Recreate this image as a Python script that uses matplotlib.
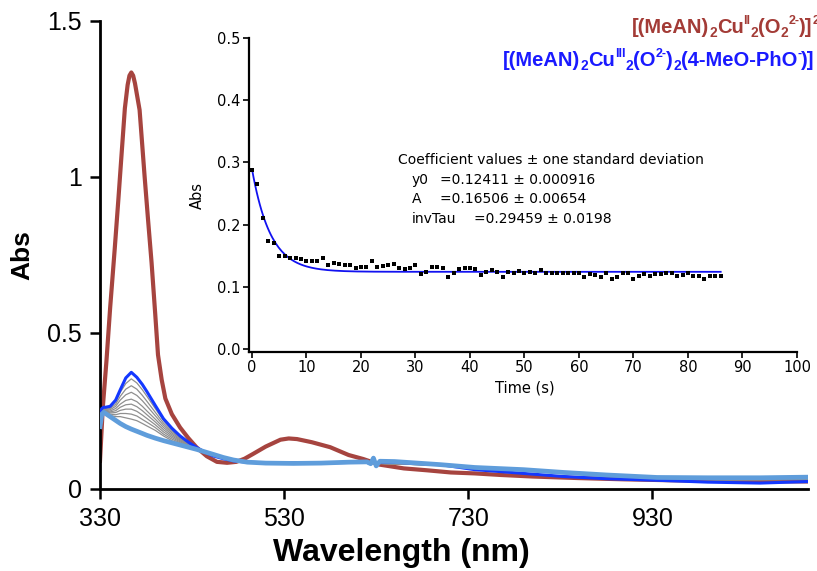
import matplotlib
matplotlib.use("Agg")
import matplotlib.pyplot as plt
import numpy as np

plt.rcParams['font.family'] = ['Liberation Sans', 'DejaVu Sans']

# ---------------- main spectra data ----------------
# initial species (brown)
wl_red = [330, 333, 337, 341, 346, 350, 353, 357, 360, 362, 364, 366, 368, 373, 378.5, 382,
          386, 390, 393, 397, 401, 408, 417, 426, 435, 446, 457, 468, 478, 487, 496, 510,
          526, 535, 544, 560, 580, 600, 616, 634, 660, 685, 711, 737, 765, 800, 850, 900,
          950, 1000, 1050, 1100]
abs_red = [0.09, 0.26, 0.41, 0.58, 0.77, 0.93, 1.055, 1.22, 1.295, 1.325, 1.335, 1.325, 1.30,
           1.215, 1.00, 0.87, 0.726, 0.56, 0.43, 0.35, 0.29, 0.24, 0.197, 0.163, 0.133,
           0.105, 0.087, 0.084, 0.087, 0.097, 0.112, 0.136, 0.158, 0.162, 0.160, 0.150,
           0.134, 0.109, 0.096, 0.078, 0.066, 0.060, 0.053, 0.050, 0.045, 0.040, 0.035,
           0.031, 0.028, 0.026, 0.025, 0.024]

# Cu(III) species (dark blue) and final spectrum (light blue)
wl_blue = [330, 332, 334, 336, 341, 347, 352, 358, 364, 370, 376, 381, 390, 399, 408, 417,
           426, 435, 444, 453, 464, 475, 490, 510, 540, 570, 600, 620, 624, 627, 630, 634,
           650, 700, 737, 790, 834, 880, 935, 990, 1047, 1100]
abs_blue = [0.245, 0.258, 0.262, 0.262, 0.265, 0.285, 0.318, 0.356, 0.374, 0.358, 0.335,
            0.312, 0.268, 0.225, 0.195, 0.170, 0.150, 0.133, 0.118, 0.106, 0.097, 0.090,
            0.086, 0.084, 0.083, 0.084, 0.085, 0.085, 0.081, 0.097, 0.076, 0.087, 0.086,
            0.078, 0.062, 0.050, 0.040, 0.033, 0.028, 0.022, 0.019, 0.024]
abs_final = [0.200, 0.240, 0.246, 0.242, 0.232, 0.220, 0.210, 0.200, 0.192, 0.185, 0.178,
             0.172, 0.163, 0.155, 0.148, 0.141, 0.134, 0.127, 0.119, 0.111, 0.101, 0.093,
             0.086, 0.083, 0.082, 0.083, 0.086, 0.087, 0.081, 0.099, 0.074, 0.089, 0.088,
             0.078, 0.069, 0.062, 0.053, 0.045, 0.037, 0.036, 0.036, 0.038]

# intermediate spectra (gray)
wl_gray = [330, 332, 336, 341, 347, 352, 358, 364, 370, 376, 381, 390, 399, 408, 417, 435,
           453, 475, 500, 600, 700, 800, 900, 1000, 1100]
gray1 = [0.243, 0.256, 0.258, 0.262, 0.280, 0.310, 0.338, 0.353, 0.340, 0.318, 0.297, 0.258,
         0.219, 0.190, 0.166, 0.132, 0.106, 0.090, 0.085, 0.085, 0.077, 0.056, 0.036, 0.028, 0.030]
gray2 = [0.240, 0.254, 0.256, 0.258, 0.272, 0.297, 0.320, 0.331, 0.320, 0.300, 0.281, 0.246,
         0.211, 0.185, 0.163, 0.131, 0.107, 0.090, 0.085, 0.085, 0.077, 0.057, 0.038, 0.030, 0.031]
gray3 = [0.237, 0.252, 0.254, 0.254, 0.265, 0.285, 0.302, 0.310, 0.300, 0.283, 0.266, 0.235,
         0.204, 0.180, 0.160, 0.131, 0.107, 0.091, 0.085, 0.085, 0.076, 0.057, 0.039, 0.031, 0.032]
gray4 = [0.233, 0.250, 0.252, 0.250, 0.258, 0.272, 0.284, 0.288, 0.280, 0.265, 0.250, 0.224,
         0.197, 0.175, 0.157, 0.130, 0.108, 0.091, 0.085, 0.085, 0.076, 0.058, 0.040, 0.032, 0.032]
gray5 = [0.229, 0.248, 0.250, 0.247, 0.251, 0.262, 0.270, 0.272, 0.264, 0.251, 0.238, 0.215,
         0.190, 0.170, 0.154, 0.130, 0.108, 0.092, 0.085, 0.085, 0.076, 0.058, 0.040, 0.033, 0.033]
gray6 = [0.224, 0.246, 0.249, 0.244, 0.245, 0.252, 0.256, 0.256, 0.249, 0.237, 0.226, 0.206,
         0.183, 0.165, 0.151, 0.129, 0.109, 0.092, 0.085, 0.085, 0.076, 0.059, 0.041, 0.034, 0.034]
gray7 = [0.218, 0.244, 0.248, 0.240, 0.238, 0.242, 0.242, 0.240, 0.234, 0.223, 0.214, 0.197,
         0.176, 0.160, 0.148, 0.129, 0.110, 0.092, 0.085, 0.085, 0.077, 0.060, 0.042, 0.035, 0.035]
gray8 = [0.212, 0.242, 0.247, 0.236, 0.232, 0.232, 0.228, 0.224, 0.219, 0.210, 0.202, 0.188,
         0.170, 0.155, 0.145, 0.128, 0.110, 0.093, 0.085, 0.085, 0.077, 0.060, 0.042, 0.036, 0.036]
grays = [gray1, gray2, gray3, gray4, gray5, gray6, gray7, gray8]

x_ticks = [330, 530, 730, 930]
y_ticks = [0, 0.5, 1, 1.5]
y_ticklabels = ['0', '0.5', '1', '1.5']

# ---------------- inset kinetic trace ----------------
time_s = list(range(0, 87))
abs_time = [0.288, 0.265, 0.211, 0.174, 0.171, 0.150, 0.150, 0.147, 0.147, 0.145,
            0.142, 0.142, 0.142, 0.147, 0.135, 0.138, 0.137, 0.135, 0.135, 0.131,
            0.132, 0.132, 0.142, 0.132, 0.133, 0.135, 0.136, 0.131, 0.128, 0.131,
            0.135, 0.120, 0.124, 0.132, 0.132, 0.131, 0.115, 0.122, 0.128, 0.130,
            0.131, 0.129, 0.1195, 0.124, 0.127, 0.124, 0.116, 0.124, 0.122, 0.126,
            0.123, 0.124, 0.123, 0.127, 0.122, 0.122, 0.122, 0.122, 0.122, 0.122,
            0.122, 0.115, 0.120, 0.119, 0.116, 0.122, 0.1125, 0.116, 0.122, 0.122,
            0.1125, 0.118, 0.120, 0.118, 0.120, 0.120, 0.122, 0.122, 0.117, 0.119,
            0.122, 0.118, 0.118, 0.1125, 0.117, 0.117, 0.117]
# fit coefficients shown on the chart
fit_y0 = 0.12411
fit_A = 0.16506
fit_invTau = 0.29459
inset_xticks = list(range(0, 101, 10))
inset_yticks = [0.0, 0.1, 0.2, 0.3, 0.4, 0.5]

# ---------------- figure ----------------
W, H = 817, 571
fig = plt.figure(figsize=(W / 100, H / 100), dpi=100)


def fx(px):
    return px / W


def fy(py):
    return 1 - py / H


C_RED = '#a6443f'
C_BLUE = '#1438ff'
C_LBLUE = '#5f9ddb'
C_GRAY = '#8f8f8f'

ax = fig.add_axes([fx(100), fy(489), fx(808) - fx(100), fy(21) - fy(489)])
ax.plot(wl_red, abs_red, color=C_RED, lw=3.0, zorder=2, solid_joinstyle='round')
for g in grays:
    ax.plot(wl_gray, g, color=C_GRAY, lw=0.9, zorder=3)
ax.plot(wl_blue, abs_blue, color=C_BLUE, lw=2.2, zorder=4, solid_joinstyle='round')
ax.plot(wl_blue, abs_final, color=C_LBLUE, lw=3.4, zorder=5, solid_joinstyle='round')

ax.set_xlim(330, 1099)
ax.set_ylim(0, 1.5)
for s in ['top', 'right']:
    ax.spines[s].set_visible(False)
for s in ['left', 'bottom']:
    ax.spines[s].set_linewidth(2)
ax.set_xticks(x_ticks)
ax.set_yticks(y_ticks)
ax.set_yticklabels(y_ticklabels)
ax.tick_params(direction='out', length=7, width=1.8, labelsize=18, pad=6)

fig.text(fx(22), fy(255), 'Abs', rotation=90, fontsize=19, fontweight='bold',
         ha='center', va='center')
fig.text(fx(401), fy(553), 'Wavelength (nm)', fontsize=23, fontweight='bold',
         ha='center', va='center')

# ---------------- inset ----------------
axi = fig.add_axes([fx(249), fy(352), fx(797) - fx(249), fy(38) - fy(352)], facecolor='none')
tf = np.linspace(0, 86, 300)
axi.plot(tf, fit_y0 + fit_A * np.exp(-fit_invTau * tf), color='#1212f0', lw=1.3, zorder=2)
axi.plot(time_s, abs_time, 's', color='black', ms=3.3, mew=0, zorder=3, clip_on=False)
axi.set_xlim(-0.55, 100)
axi.set_ylim(-0.0048, 0.5)
for s in ['top', 'right']:
    axi.spines[s].set_visible(False)
for s in ['left', 'bottom']:
    axi.spines[s].set_linewidth(1.6)
axi.set_xticks(inset_xticks)
axi.set_yticks(inset_yticks)
axi.set_yticklabels(['%.1f' % v for v in inset_yticks])
axi.tick_params(direction='out', length=4, width=1.2, labelsize=10.5, pad=2)
for lab in axi.get_xticklabels() + axi.get_yticklabels():
    lab.set_family('DejaVu Sans')
fig.text(fx(525), fy(388), 'Time (s)', fontsize=10.5, family='DejaVu Sans', ha='center', va='center')
fig.text(fx(197), fy(196), 'Abs', fontsize=10.5, family='DejaVu Sans', rotation=90,
         ha='center', va='center')

coef_fs = 10
fig.text(fx(398), fy(160), 'Coefficient values \u00b1 one standard deviation', fontsize=coef_fs,
         family='DejaVu Sans', ha='left', va='center')
coef_rows = [('y0', '=0.12411 \u00b1 0.000916', 440, 180),
             ('A', '=0.16506 \u00b1 0.00654', 440, 199),
             ('invTau', '=0.29459 \u00b1 0.0198', 474, 219)]
for name, val, xv, yv in coef_rows:
    fig.text(fx(412), fy(yv), name, fontsize=coef_fs, family='DejaVu Sans', ha='left', va='center')
    fig.text(fx(xv), fy(yv), val, fontsize=coef_fs, family='DejaVu Sans', ha='left', va='center')

# ---------------- rich-text labels (top right) ----------------
renderer = fig.canvas.get_renderer()


def rich(x, y_base, runs, color, size):
    cur = x
    em = size * 100 / 72
    for s, k in runs:
        if k == 'n':
            fs, dy, wt = size, 0, 'bold'
        elif k == 'sub':
            fs, dy, wt = size * 0.68, -0.22 * em, 'bold'
        else:
            fs, dy, wt = size * 0.62, 0.45 * em, 'bold'
        t = fig.text(fx(cur), fy(y_base - dy), s, fontsize=fs, fontweight=wt, color=color,
                     ha='left', va='baseline', family='Liberation Sans')
        cur += t.get_window_extent(renderer=renderer).width


red_runs = [('[(MeAN)', 'n'), ('2', 'sub'), ('Cu', 'n'), ('II', 'sup'), ('2', 'sub'),
            ('(O', 'n'), ('2', 'sub'), ('2-', 'sup'), (')]', 'n'), ('2+', 'sup')]
blue_runs = [('[(MeAN)', 'n'), ('2', 'sub'), ('Cu', 'n'), ('III', 'sup'), ('2', 'sub'),
             ('(O', 'n'), ('2-', 'sup'), (')', 'n'), ('2', 'sub'), ('(4-MeO-PhO', 'n'),
             ('-', 'sup'), (')]', 'n')]
rich(632, 33, red_runs, '#a33b36', 14.5)
rich(503, 66, blue_runs, '#1a1aff', 14.5)

fig.savefig('out.png', dpi=100)
